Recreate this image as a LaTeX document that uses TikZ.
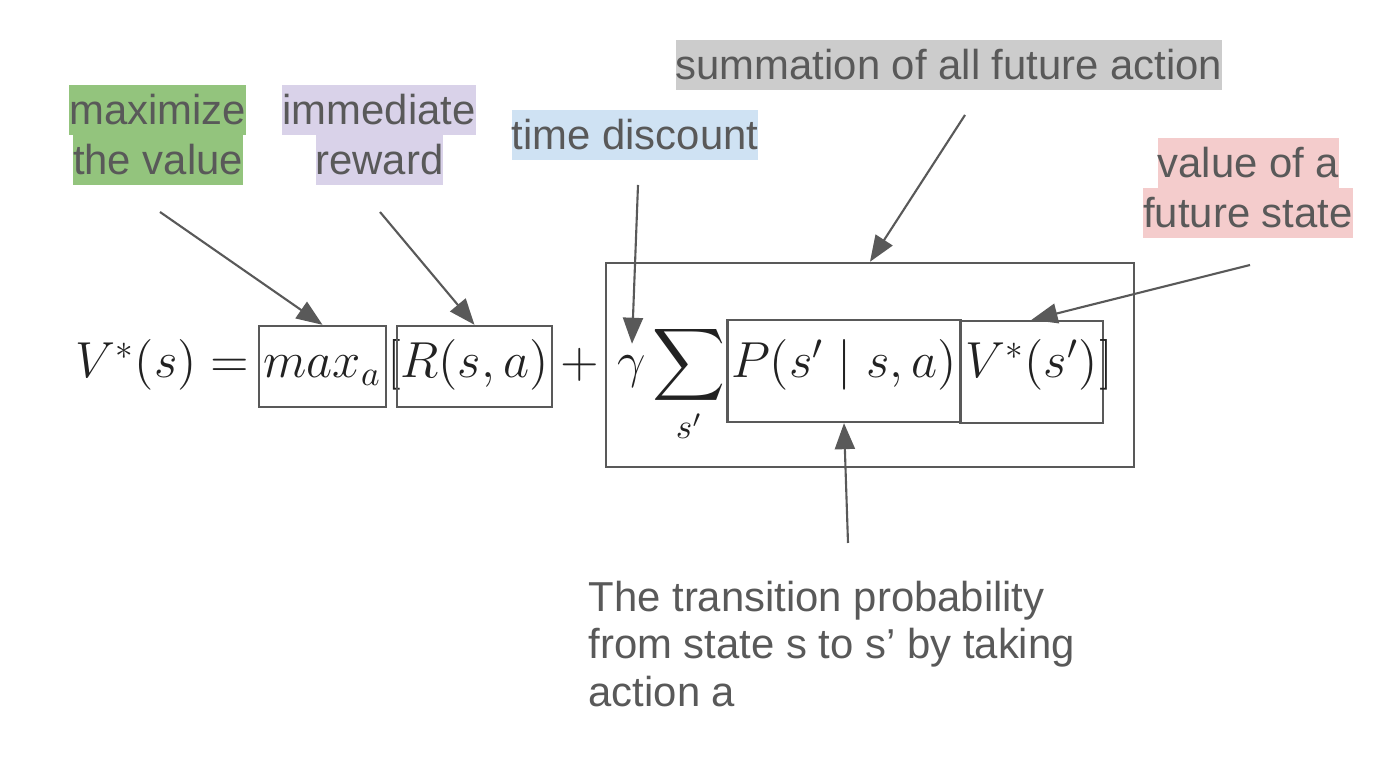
\documentclass[tikz,border=0pt]{standalone}
\usepackage{amsmath}
\usepackage{fontspec}
\newfontfamily\slidefont{Liberation Sans}
\usetikzlibrary{arrows.meta,positioning}
\definecolor{slideGray}{RGB}{89,89,89}
\definecolor{eqInk}{RGB}{34,34,34}
\definecolor{hlGreen}{RGB}{147,196,125}
\definecolor{hlPurple}{RGB}{217,210,233}
\definecolor{hlBlue}{RGB}{207,226,243}
\definecolor{hlGray}{RGB}{204,204,204}
\definecolor{hlRed}{RGB}{244,204,204}

\tikzset{
    note/.style={font=\slidefont\fontsize{11.9}{14}\selectfont, text=slideGray, inner xsep=0pt, inner ysep=0pt, text height=4mm, text depth=1mm, anchor=base},
    eq/.style={font=\Large, text=eqInk, anchor=base},
    termbox/.style={eq, draw=slideGray, line width=0.65pt, inner xsep=1pt, inner ysep=0pt},
    pointer/.style={draw=slideGray, line width=0.6pt, -{Triangle[length=2.6mm,width=2mm]}}
}

\begin{document}
\begin{tikzpicture}[x=0.01cm,y=-0.01cm]
    \useasboundingbox (0,0) rectangle (1400,762);

    \node[eq, anchor=base east, inner sep=0pt] (lhs) at (250,378) {$V^*(s) =$};
    \node[termbox, minimum width=12.7mm, text height=5.2mm, text depth=2.9mm] (maxbox) at (322.5,378) {$max_a$};
    \node[eq] (lbrack) at (394,378) {$[$};
    \node[termbox, minimum width=15.5mm, text height=5.2mm, text depth=2.9mm] (rbox) at (474.5,378) {$R(s,a)$};
    \node[eq] (plus) at (580,378) {$+$};
    \node[eq] (gam) at (632,378) {$\gamma$};
    \node[eq] (sigma) at (689,378) {$\displaystyle\sum_{s'}$};
    \node[termbox, minimum width=23.2mm, text height=5.8mm, text depth=4.4mm] (pbox) at (844,378) {$P(s' \mid s,a)$};
    \node[termbox, minimum width=14.3mm, text height=5.7mm, text depth=4.5mm] (vbox) at (1031.5,378) {$V^*(s')$};
    \node[eq] (rbrack) at (1106,378) {$]$};
    \node[draw=slideGray, line width=0.65pt, minimum width=52.8mm, minimum height=20.4mm, inner sep=0pt] (sumbox) at (870,365) {};

    \node[note, fill=hlGreen] (maxA) at (157.5,125) {maximize};
    \node[note, fill=hlGreen] (maxB) at (158,175) {the value};
    \node[note, fill=hlPurple] (rewA) at (379,125) {immediate};
    \node[note, fill=hlPurple] (rewB) at (379.5,175) {reward};
    \node[note, fill=hlBlue] (disc) at (635,150) {time discount};
    \node[note, fill=hlGray] (summ) at (949,80) {summation of all future action};
    \node[note, fill=hlRed] (futA) at (1248.5,178) {value of a};
    \node[note, fill=hlRed] (futB) at (1248,228) {future state};
    \node[font=\slidefont\fontsize{11.9}{13.6}\selectfont, text=slideGray, align=left, anchor=north west, inner sep=0pt] (trans) at (588,580) {The transition probability\\from state s to s’ by taking\\action a};

    \coordinate (maxTail) at (160,212);
    \coordinate (rewTail) at (380,212);
    \coordinate (discTail) at (638,185);
    \coordinate (summTail) at (965,115);
    \coordinate (futTail) at (1250,265);
    \coordinate (transTail) at (848,543);

    \draw[pointer] (maxTail) -- (maxbox.north);
    \draw[pointer] (rewTail) -- (rbox.north);
    \draw[pointer] (discTail) -- (gam.north);
    \draw[pointer] (summTail) -- (sumbox.north);
    \draw[pointer] (futTail) -- (vbox.north);
    \draw[pointer] (transTail) -- (pbox.south);
\end{tikzpicture}
\end{document}
